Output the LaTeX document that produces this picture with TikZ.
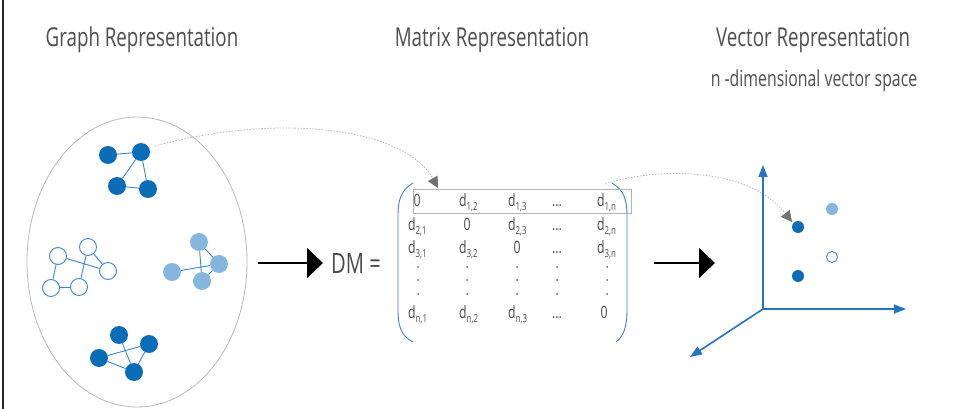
\documentclass[tikz,border=0pt]{standalone}
\usepackage{fontspec}
\setmainfont{Open Sans}[FakeStretch=0.72]
\usetikzlibrary{arrows.meta}
\definecolor{dblue}{HTML}{0B6CB8}
\definecolor{lblue}{HTML}{84B6DE}
\definecolor{eblue}{HTML}{3D86CC}
\definecolor{ablue}{HTML}{2673C4}
\definecolor{tgray}{HTML}{4E4E4E}
\definecolor{mgray}{HTML}{4A4A4A}
\tikzset{
  gdark/.style={circle,fill=dblue,minimum size=18pt,inner sep=0pt},
  glight/.style={circle,fill=lblue,minimum size=18pt,inner sep=0pt},
  gopen/.style={circle,draw=eblue,fill=white,line width=0.9pt,minimum size=17pt,inner sep=0pt},
  gedge/.style={draw=eblue,line width=0.9pt},
  title/.style={anchor=base,text=tgray,font=\fontsize{26}{26}\selectfont},
  ment/.style={anchor=base west,text=mgray,font=\fontsize{17}{17}\selectfont,inner sep=0pt},
  mzero/.style={anchor=base,text=mgray,font=\fontsize{17}{17}\selectfont,inner sep=0pt},
  mdot/.style={circle,fill=mgray!85,minimum size=2pt,inner sep=0pt},
  bigarrow/.style={line width=2pt,-{Triangle[length=16pt,width=30pt]}},
  dotarrow/.style={draw=gray!55,dash pattern=on 1.5pt off 1.5pt,line width=0.8pt,
     -{Triangle[length=11pt,width=11pt,fill=gray!90!black,color=gray!90!black]}},
  axis/.style={draw=ablue,line width=1.6pt,-{Triangle[length=12pt,width=9pt]}},
  vdot/.style={circle,minimum size=12pt,inner sep=0pt},
}
\newcommand{\dsub}[1]{d\raisebox{-4.5pt}{\fontsize{11}{11}\selectfont #1}}
\begin{document}
\begin{tikzpicture}[x=1pt,y=-1pt]
\useasboundingbox (0,0) rectangle (956,409);
\fill[white] (0,0) rectangle (956,409);
% left border line
\draw[line width=1.3pt,black!85] (3,0) -- (3,409);

% titles
\node[title] (tg) at (142,47) {Graph Representation};
\node[title] (tm) at (492,47) {Matrix Representation};
\node[title] (tv) at (813,47) {Vector Representation};
\node[title,font=\fontsize{22}{22}\selectfont] (tn) at (814,87) {n -dimensional vector space};

% ellipse
\draw[gray!55,line width=0.8pt] (137,262) ellipse [x radius=110, y radius=145];

% top cluster
\node[gdark] (t1) at (108,155) {};
\node[gdark] (t2) at (141,152) {};
\node[gdark] (t3) at (117,186) {};
\node[gdark] (t4) at (148,189) {};
\draw[gedge] (t1)--(t2) (t2)--(t3) (t2)--(t4) (t3)--(t4);
% open cluster
\node[gopen] (o1) at (58,256) {};
\node[gopen] (o2) at (88,247) {};
\node[gopen] (o3) at (108,271) {};
\node[gopen] (o4) at (79,287) {};
\node[gopen] (o5) at (51,288) {};
\draw[gedge] (o1)--(o3) (o2)--(o4) (o2)--(o3) (o1)--(o5) (o5)--(o4);
% light cluster
\node[glight] (l1) at (199,242) {};
\node[glight] (l2) at (219,264) {};
\node[glight] (l3) at (202,281) {};
\node[glight] (l4) at (172,272) {};
\draw[gedge] (l4)--(l2) (l1)--(l3) (l1)--(l2) (l3)--(l2);
% bottom cluster
\node[gdark] (b1) at (119,335) {};
\node[gdark] (b2) at (149,344) {};
\node[gdark] (b3) at (134,372) {};
\node[gdark] (b4) at (99,358) {};
\draw[gedge] (b4)--(b2) (b1)--(b3) (b2)--(b3) (b4)--(b3);

% arrow 1
\coordinate (a1s) at (258,263);
\coordinate (a1e) at (323,263);
\draw[bigarrow] (a1s) -- (a1e);

% DM =
\node[anchor=base west,text=mgray,font=\fontsize{28}{28}\selectfont,inner sep=0pt] (dm) at (331,273) {DM =};

% matrix brackets
\draw[eblue,line width=0.9pt] (413,183) .. controls (401,190) and (398,200) .. (398,216) -- (398,310) .. controls (398,326) and (401,336) .. (413,342);
\draw[eblue,line width=0.9pt] (612,183) .. controls (624,190) and (627,200) .. (627,216) -- (627,310) .. controls (627,326) and (624,336) .. (616,342);
% row box
\draw[gray!60,line width=0.8pt] (413,189) rectangle (631,213);

% row 1
\node[mzero] (m11) at (417,206) {0};
\node[ment] (m12) at (459,206) {\dsub{1,2}};
\node[ment] (m13) at (508,206) {\dsub{1,3}};
\node[mzero] (m14) at (557,206) {...};
\node[ment] (m15) at (597,206) {\dsub{1,n}};
% row 2
\node[ment] (m21) at (408,230) {\dsub{2,1}};
\node[mzero] (m22) at (467,230) {0};
\node[ment] (m23) at (508,230) {\dsub{2,3}};
\node[mzero] (m24) at (557,230) {...};
\node[ment] (m25) at (597,230) {\dsub{2,n}};
% row 3
\node[ment] (m31) at (408,253) {\dsub{3,1}};
\node[ment] (m32) at (459,253) {\dsub{3,2}};
\node[mzero] (m33) at (517,253) {0};
\node[mzero] (m34) at (557,253) {...};
\node[ment] (m35) at (597,253) {\dsub{3,n}};
% vertical dots
\foreach \x [count=\i] in {418,467,517,557,607}{
  \foreach \y [count=\j] in {267,280,294}{
    \node[mdot] (vd\i\j) at (\x,\y) {};
  }
}
% last row
\node[ment] (mn1) at (408,318) {\dsub{n,1}};
\node[ment] (mn2) at (459,318) {\dsub{n,2}};
\node[ment] (mn3) at (508,318) {\dsub{n,3}};
\node[mzero] (mn4) at (557,318) {...};
\node[mzero] (mn5) at (604,318) {0};

% dotted arrows
\coordinate (d1s) at (155,146);
\coordinate (d1e) at (438,188);
\draw[dotarrow] (d1s) .. controls (280,112) and (405,128) .. (d1e);
\coordinate (d2s) at (605,184);
\coordinate (d2e) at (792,222);
\draw[dotarrow] (d2s) .. controls (660,166) and (750,168) .. (d2e);

% arrow 2
\coordinate (a2s) at (654,263);
\coordinate (a2e) at (715,263);
\draw[bigarrow] (a2s) -- (a2e);

% axes
\coordinate (o) at (763,309);
\coordinate (ay) at (763,165);
\coordinate (ax) at (906,309);
\coordinate (az) at (690,357);
\draw[axis] (o) -- (ay);
\draw[axis] (o) -- (ax);
\draw[axis] (o) -- (az);

% vector points
\node[vdot,fill=dblue] (p1) at (798,227) {};
\node[vdot,fill=dblue] (p2) at (798,276) {};
\node[vdot,fill=lblue] (p3) at (832,209) {};
\node[vdot,draw=eblue,fill=white,line width=0.9pt,minimum size=11pt] (p4) at (832,257) {};
\end{tikzpicture}
\end{document}
